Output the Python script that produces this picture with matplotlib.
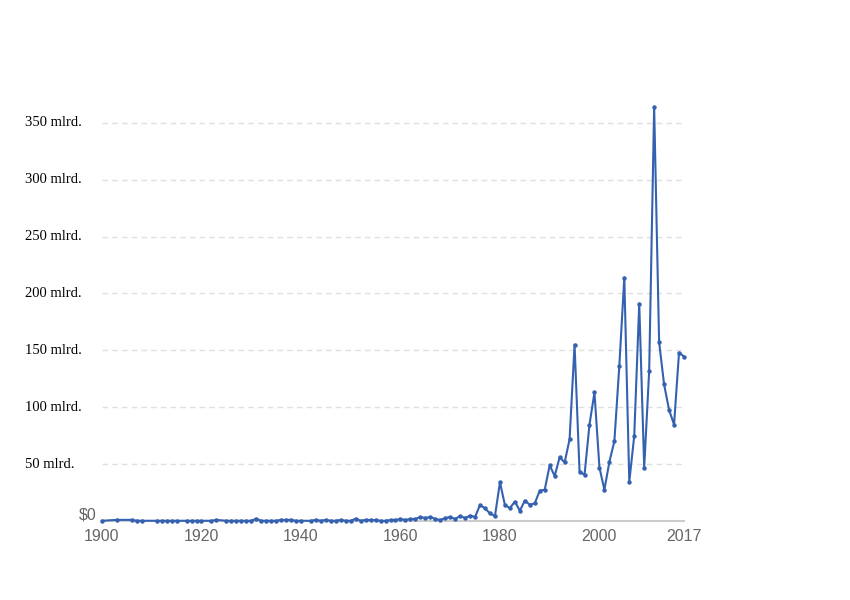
import matplotlib
matplotlib.use("Agg")
import matplotlib.pyplot as plt

years = ([1900, 1903, 1906, 1907, 1908, 1911, 1912, 1913, 1914, 1915,
          1917, 1918, 1919, 1920, 1922, 1923]
         + list(range(1925, 1941)) + list(range(1942, 2018)))

values = [
    # 1900-1923
    0.2, 1.0, 1.0, 0.2, 0.2, 0.2, 0.2, 0.2, 0.2, 0.2,
    0.2, 0.2, 0.2, 0.2, 0.2, 1.0,
    # 1925-1940
    0.2, 0.2, 0.2, 0.2, 0.2, 0.2, 2.0, 0.2, 0.2, 0.2, 0.2, 1.0, 1.0, 1.0, 0.2, 0.2,
    # 1942-1953
    0.2, 1.0, 0.2, 1.0, 0.2, 0.2, 1.0, 0.2, 0.2, 2.0, 0.2, 1.0,
    # 1954-1973
    0.9, 0.9, 0.2, 0.2, 0.9, 0.9, 1.8, 0.9, 1.8, 1.8,
    3.5, 2.6, 3.5, 1.8, 0.9, 2.6, 3.5, 1.8, 4.4, 2.6,
    # 1974-1989
    4.8, 3.5, 14.3, 11.0, 6.7, 4.4, 34.0, 14.0, 11.4, 17.0,
    9.0, 17.9, 14.3, 15.5, 26.7, 27.5,
    # 1990-2003
    49.0, 39.5, 56.0, 51.5, 71.8, 155.0, 43.5, 40.5, 84.7, 113.0,
    47.0, 27.5, 52.0, 70.0,
    # 2004-2017
    136.5, 214.0, 34.5, 75.0, 191.0, 47.0, 132.0, 364.0, 157.0, 120.0,
    97.6, 84.7, 148.0, 144.5,
]

xticks = [1900, 1920, 1940, 1960, 1980, 2000, 2017]
yticks = [50, 100, 150, 200, 250, 300, 350]
ylabels = ["50 mlrd.", "100 mlrd.", "150 mlrd.", "200 mlrd.",
           "250 mlrd.", "300 mlrd.", "350 mlrd."]
zero_label = "$0"

line_color = "#3461b0"

fig = plt.figure(figsize=(8.5, 6.0), dpi=100)
ax = fig.add_axes([102 / 850, 1 - 521 / 600, 582 / 850, 421 / 600])

ax.plot(years, values, color=line_color, linewidth=1.5, marker="o",
        markersize=3.2, markeredgewidth=0, zorder=3, clip_on=False)

ax.set_xlim(1900, 2017)
ax.set_ylim(0, 370)

for s in ["top", "right", "left"]:
    ax.spines[s].set_visible(False)
ax.spines["bottom"].set_color("#cccccc")
ax.spines["bottom"].set_linewidth(1.5)
ax.spines["bottom"].set_zorder(2)

ax.set_yticks(yticks)
ax.set_yticklabels([])
ax.tick_params(axis="y", length=0)
ax.grid(axis="y", color="#e0e0e0", linestyle=(0, (4, 3)), linewidth=1.0)
ax.set_axisbelow(True)

ax.set_xticks(xticks)
ax.set_xticklabels([str(t) for t in xticks], fontsize=11.5,
                   color="#666666", fontfamily="Liberation Sans")
ax.tick_params(axis="x", length=0, pad=6)

ytrans = ax.get_yaxis_transform()
for v, lab in zip(yticks, ylabels):
    ax.text(-77 / 582, v, lab, transform=ytrans, ha="left", va="center",
            fontsize=10.5, fontfamily="Liberation Serif", color="black")
ax.text(-5 / 582, 5, zero_label, transform=ytrans, ha="right", va="center",
        fontsize=11.5, fontfamily="Liberation Sans", color="#666666")

fig.savefig("out.png", dpi=100)
